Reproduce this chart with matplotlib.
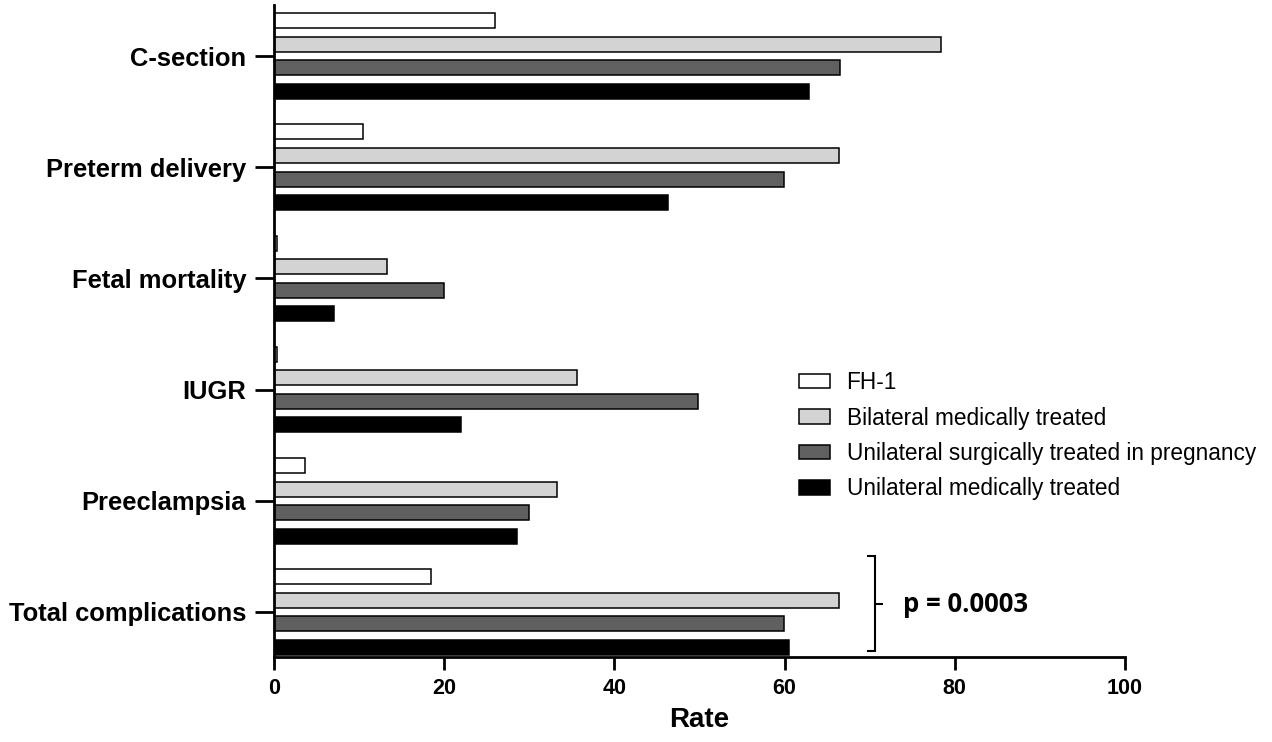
import matplotlib
matplotlib.use("Agg")
import matplotlib.pyplot as plt
import numpy as np
from matplotlib.patches import Patch

categories = ["C-section", "Preterm delivery", "Fetal mortality", "IUGR",
              "Preeclampsia", "Total complications"]
series_names = ["FH-1", "Bilateral medically treated",
                "Unilateral surgically treated in pregnancy",
                "Unilateral medically treated"]
fh1 = [26.0, 10.5, 0.4, 0.4, 3.6, 18.4]
bilateral_med = [78.4, 66.4, 13.3, 35.6, 33.3, 66.4]
unilateral_surg = [66.5, 59.9, 20.0, 49.8, 30.0, 59.9]
unilateral_med = [62.9, 46.3, 7.1, 22.0, 28.6, 60.5]
xticks = [0, 20, 40, 60, 80, 100]

series = [fh1, bilateral_med, unilateral_surg, unilateral_med]
colors = ["#ffffff", "#d3d3d3", "#606060", "#000000"]

plt.rcParams['font.family'] = ['Liberation Sans', 'DejaVu Sans']

W, H = 1272, 742
fig = plt.figure(figsize=(W / 100, H / 100), dpi=100)
ax = fig.add_axes([274 / W, 1 - 657 / H, (1125 - 274) / W, (657 - 5) / H])

y = np.arange(len(categories))
offsets = [-0.318, -0.106, 0.106, 0.318]
for vals, off, col, name in zip(series, offsets, colors, series_names):
    ax.barh(y + off, vals, height=0.135, color=col, edgecolor="black",
            linewidth=1.1, label=name)

ax.set_xlim(0, 100)
ax.set_ylim(5.405, -0.46)
ax.set_yticks(y)
ax.set_yticklabels(categories, fontsize=18.4, fontweight="bold")
ax.set_xticks(xticks)
ax.set_xticklabels([str(t) for t in xticks], fontsize=15.5, fontweight="bold")
ax.set_xlabel("Rate", fontsize=20, fontweight="bold", labelpad=6)

for s in ["top", "right"]:
    ax.spines[s].set_visible(False)
for s in ["left", "bottom"]:
    ax.spines[s].set_linewidth(2)
ax.tick_params(axis="y", length=14, width=2, pad=6)
ax.tick_params(axis="x", length=9, width=2, pad=6)

handles = [Patch(facecolor=c, edgecolor="black", linewidth=1.1) for c in colors]
leg = fig.legend(handles, series_names, loc="upper left",
                 bbox_to_anchor=(790 / W, 1 - 362 / H), frameon=False,
                 fontsize=16.3, handlelength=1.35, handleheight=0.6,
                 labelspacing=0.55, handletextpad=0.75, borderaxespad=0)

# bracket with p-value
bx = 70.6
y0, y1, ym = 4.50, 5.35, 4.93
ax.plot([bx - 0.8, bx, bx, bx - 0.8], [y0, y0, y1, y1], color="black",
        lw=1.5, clip_on=False, solid_joinstyle="miter")
ax.plot([bx, bx + 0.8], [ym, ym], color="black", lw=1.5, clip_on=False)
ax.text(bx + 3.3, ym, "p = 0.0003", fontsize=18.5, fontweight="bold",
        family=["Open Sans", "DejaVu Sans"], va="center", ha="left")

fig.savefig("out.png", dpi=100)
